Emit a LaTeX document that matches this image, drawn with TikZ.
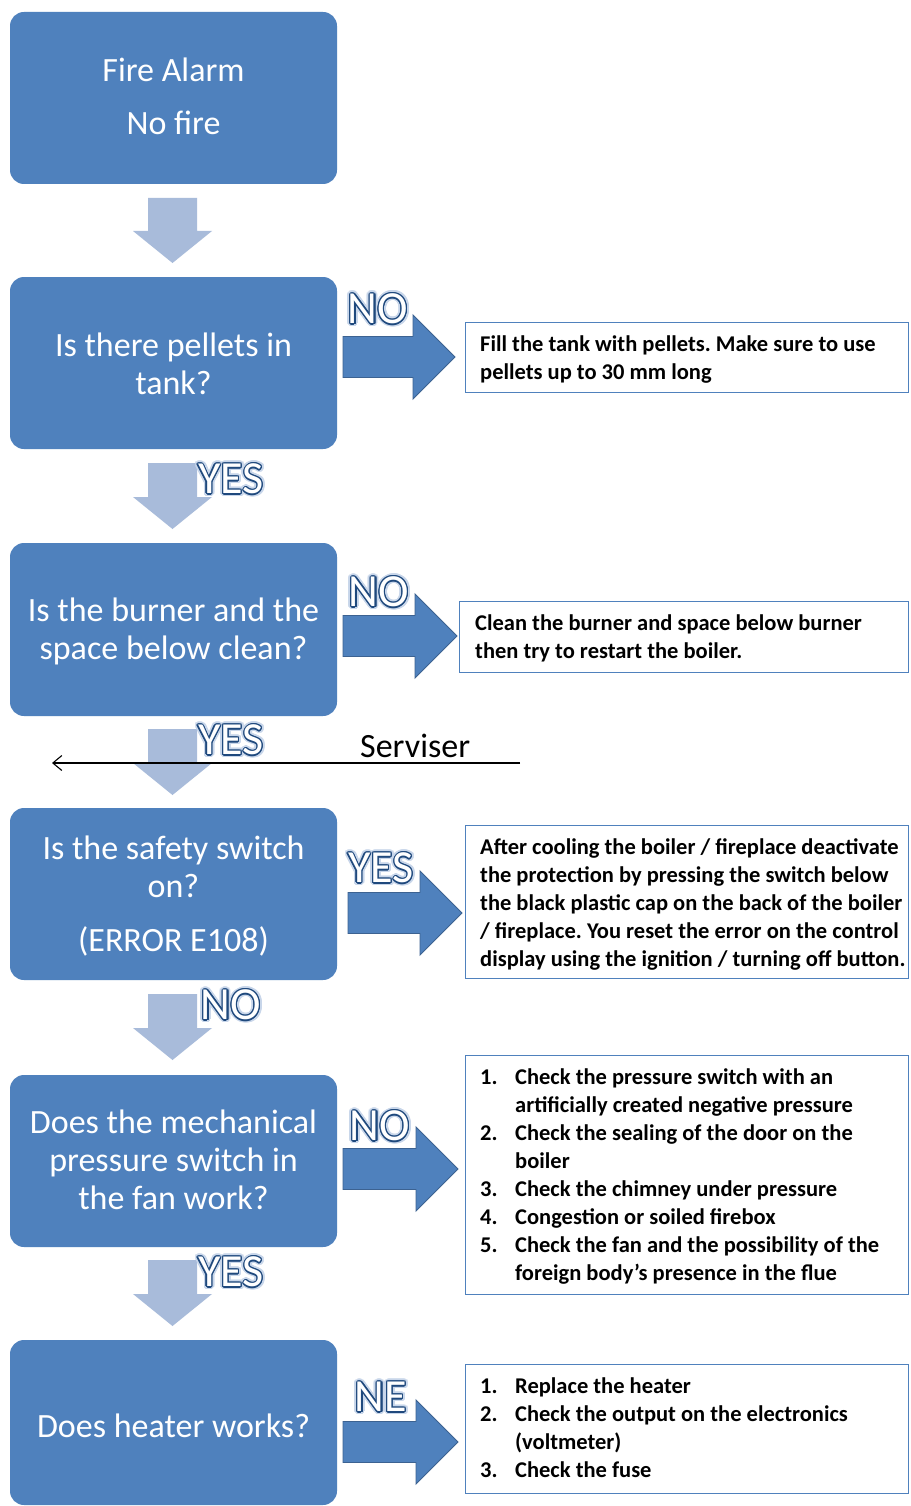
\documentclass[tikz,border=0pt]{standalone}
\usepackage{fontspec}
\setmainfont{Carlito}
\frenchspacing
\usetikzlibrary{calc,arrows.meta}
\definecolor{boxblue}{RGB}{79,129,189}
\definecolor{lightarrow}{RGB}{168,187,218}
\definecolor{arrowedge}{RGB}{60,98,145}
\definecolor{lbledge}{RGB}{31,73,125}
\definecolor{lblglow}{RGB}{200,214,234}
\tikzset{
  qbox/.style={fill=boxblue, rounded corners=14pt, minimum width=327pt, inner sep=0pt},
  qtext/.style={text=white, font=\fontsize{34}{38}\selectfont, align=center, anchor=base, inner sep=0pt},
  rbox/.style={draw=boxblue, line width=1.2pt, fill=white, anchor=north west, minimum width=443pt, inner sep=0pt},
  rtext/.style={font=\bfseries\fontsize{22.5}{28}\selectfont, align=left, anchor=base west, inner sep=0pt},
  lbl/.style={font=\fontsize{46}{46}\selectfont, inner sep=0pt},
  barrow/.style={fill=boxblue, draw=arrowedge, line width=0.9pt, line join=miter},
  larrow/.style={fill=lightarrow}
}
\newcommand\olbl[3]{%
  \foreach \a in {0,20,...,340}{\node[lbl,text=lblglow] at ($(#2)+(\a:3.2)$) {#3};}
  \foreach \a in {0,30,...,330}{\node[lbl,text=lbledge] at ($(#2)+(\a:1.3)$) {#3};}
  \node[lbl,text=white] (#1) at (#2) {#3};}
\newcommand\darr[2]{%
  \fill[larrow] (148,#1) -- (197,#1) -- (197,#2-32) -- (212,#2-32) -- (172.5,#2)
     -- (133,#2-32) -- (148,#2-32) -- cycle;}
\newcommand\rarr[3]{%
  \draw[barrow] (#1,#2-20.5) -- (#3-42,#2-20.5) -- (#3-42,#2-42) -- (#3,#2)
     -- (#3-42,#2+42) -- (#3-42,#2+20.5) -- (#1,#2+20.5) -- cycle;}
\begin{document}
\begin{tikzpicture}[x=1pt,y=-1pt]
\useasboundingbox (0,0) rectangle (910,1506);
\fill[white] (0,0) rectangle (910,1506);

% question boxes
\node[qbox, minimum height=172pt] (b1) at (173.5,98) {};
\node[qbox, minimum height=172pt] (b2) at (173.5,363) {};
\node[qbox, minimum height=173pt] (b3) at (173.5,629.5) {};
\node[qbox, minimum height=172pt] (b4) at (173.5,894) {};
\node[qbox, minimum height=172pt] (b5) at (173.5,1161) {};
\node[qbox, minimum height=165pt] (b6) at (173.5,1422.5) {};

% (anchor=base is the baseline of the last line)
\node[qtext] (t1) at (173.5,135) {Fire Alarm\\[15pt]No fire};
\node[qtext] (t2) at (173.5,394) {Is there pellets in\\tank?};
\node[qtext] (t3) at (173.5,659) {Is the burner and the\\space below clean?};
\node[qtext] (t4) at (173.5,951) {Is the safety switch\\on?\\[16pt](ERROR E108)};
\node[qtext] (t5) at (173.5,1209) {Does the mechanical\\pressure switch in\\the fan work?};
\node[qtext] (t6) at (173.5,1437) {Does heater works?};

% down arrows
\darr{198}{263}
\darr{463}{529}
\darr{729}{795}
\darr{994}{1060}
\darr{1260}{1326}

% right arrows
\rarr{343}{357}{455}
\rarr{343}{636}{457}
\rarr{348}{913}{462}
\rarr{343}{1169}{458}
\rarr{343}{1442}{458}

% answer boxes
\node[rbox, minimum height=70pt] (r2) at (465,322) {};
\node[rbox, minimum height=71pt, minimum width=449pt] (r3) at (459,601) {};
\node[rbox, minimum height=153pt] (r4) at (465,825) {};
\node[rbox, minimum height=239pt] (r5) at (465,1055) {};
\node[rbox, minimum height=129pt] (r6) at (465,1364) {};

\node[rtext] (a2) at (480,379) {Fill the tank with pellets. Make sure to use\\pellets up to 30 mm long};
\node[rtext] (a3) at (475,658) {Clean the burner and space below burner\\then try to restart the boiler.};
\node[rtext] (a4) at (480,966) {After cooling the boiler / fireplace deactivate\\the protection by pressing the switch below\\the black plastic cap on the back of the boiler\\/ fireplace. You reset the error on the control\\display using the ignition / turning off button.};
\node[rtext] (a5) at (480,1280) {\makebox[35pt][l]{1.}Check the pressure switch with an\\
\hspace*{35pt}artificially created negative pressure\\
\makebox[35pt][l]{2.}Check the sealing of the door on the\\
\hspace*{35pt}boiler\\
\makebox[35pt][l]{3.}Check the chimney under pressure\\
\makebox[35pt][l]{4.}Congestion or soiled firebox\\
\makebox[35pt][l]{5.}Check the fan and the possibility of the\\
\hspace*{35pt}foreign body's presence in the flue};
\node[rtext] (a6) at (480,1477) {\makebox[35pt][l]{1.}Replace the heater\\
\makebox[35pt][l]{2.}Check the output on the electronics\\
\hspace*{35pt}(voltmeter)\\
\makebox[35pt][l]{3.}Check the fuse};

% labels
\olbl{l2}{378,309}{NO}
\olbl{l3}{379,592}{NO}
\olbl{l4}{381,868}{YES}
\olbl{l5}{380,1126}{NO}
\olbl{l6}{381,1397}{NE}
\olbl{d2}{231,479}{YES}
\olbl{d3}{231,740}{YES}
\olbl{d4}{231,1005}{NO}
\olbl{d5}{231,1272}{YES}

% serviser line
\node[anchor=base west, font=\fontsize{34}{38}\selectfont, inner sep=0pt] (sv) at (360,757) {Serviser};
\coordinate (s1) at (520,763);
\coordinate (s0) at (52,763);
\draw[line width=1.1pt, -{Straight Barb[length=9pt,width=15pt]}] (s1) -- (s0);
\end{tikzpicture}
\end{document}
